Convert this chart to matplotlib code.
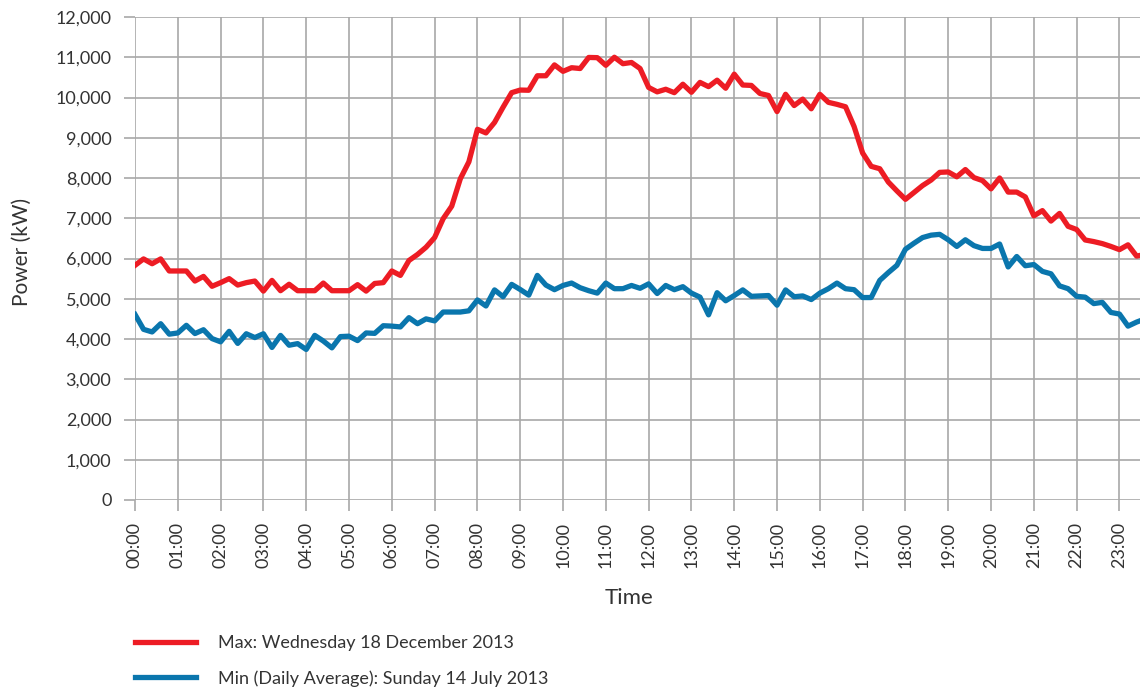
import matplotlib
matplotlib.use("Agg")
import matplotlib.pyplot as plt
import numpy as np

plt.rcParams["font.family"] = ["Lato", "DejaVu Sans"]

# ---- data (12-minute readings, kW) ----
interval_minutes = 12
max_power = [
    5830, 5990, 5870, 5990, 5690, 5690, 5690, 5440, 5555, 5310,
    5400, 5500, 5340, 5400, 5440, 5190, 5456, 5200, 5360, 5200,
    5200, 5200, 5390, 5200, 5200, 5200, 5350, 5190, 5380, 5400,
    5690, 5580, 5950, 6100, 6280, 6520, 6990, 7300, 7980, 8400,
    9210, 9120, 9380, 9760, 10120, 10185, 10180, 10540, 10540, 10810,
    10650, 10740, 10720, 10995, 10990, 10800, 11000, 10840, 10870, 10720,
    10250, 10140, 10205, 10120, 10330, 10130, 10375, 10270, 10430, 10230,
    10580, 10310, 10300, 10100, 10050, 9650, 10080, 9800, 9960, 9720,
    10080, 9880, 9830, 9770, 9280, 8620, 8290, 8230, 7900, 7680,
    7470, 7640, 7812, 7950, 8140, 8150, 8030, 8210, 8010, 7936,
    7730, 8000, 7650, 7650, 7530, 7060, 7190, 6930, 7120, 6800,
    6720, 6460, 6420, 6370, 6300, 6220, 6340, 6060, 6100,
]
min_power = [
    4610, 4240, 4175, 4380, 4120, 4150, 4340, 4135, 4230, 4010,
    3930, 4190, 3890, 4130, 4035, 4130, 3790, 4090, 3845, 3885,
    3740, 4090, 3950, 3780, 4060, 4070, 3960, 4150, 4140, 4330,
    4320, 4300, 4530, 4380, 4500, 4450, 4670, 4670, 4670, 4700,
    4970, 4820, 5220, 5050, 5357, 5230, 5090, 5580, 5340, 5225,
    5330, 5390, 5274, 5200, 5140, 5390, 5250, 5250, 5330, 5260,
    5370, 5130, 5330, 5225, 5300, 5140, 5040, 4600, 5150, 4950,
    5080, 5220, 5060, 5070, 5080, 4840, 5220, 5050, 5070, 4980,
    5140, 5250, 5390, 5250, 5225, 5030, 5030, 5456, 5650, 5830,
    6230, 6380, 6520, 6580, 6600, 6465, 6300, 6465, 6320, 6250,
    6250, 6360, 5790, 6050, 5820, 5850, 5680, 5620, 5320, 5250,
    5060, 5040, 4880, 4910, 4660, 4620, 4320, 4420, 4500,
]
hour_labels = [f"{h:02d}:00" for h in range(24)]
y_ticks = list(range(0, 12001, 1000))
series_labels = ["Max: Wednesday 18 December 2013",
                 "Min (Daily Average): Sunday 14 July 2013"]

t_max = np.arange(len(max_power)) * interval_minutes / 60.0
t_min = np.arange(len(min_power)) * interval_minutes / 60.0

RED = "#ED1C24"
BLUE = "#0A76AD"
GRID = "#a8a8a8"
TXT = "#333333"

W, H = 1140, 688
fig = plt.figure(figsize=(W / 100, H / 100), dpi=100)
ax = fig.add_axes([135 / W, 1 - 500 / H, (W - 135) / W, (500 - 17) / H])

ax.plot(t_max, max_power, color=RED, lw=3.8, label=series_labels[0], zorder=3)
ax.plot(t_min, min_power, color=BLUE, lw=3.8, label=series_labels[1], zorder=3)

ax.set_xlim(0, 23.48)
ax.set_ylim(0, 12000)
ax.set_xticks(range(24))
ax.set_xticklabels(hour_labels, rotation=90)
ax.set_yticks(y_ticks)
ax.set_yticklabels([f"{v:,}" for v in y_ticks])

ax.grid(True, color=GRID, lw=1.2)
ax.set_axisbelow(True)
for s in ax.spines.values():
    s.set_visible(False)
ax.tick_params(axis="both", length=8, width=1.2, color=GRID,
               labelsize=13, labelcolor=TXT)
ax.tick_params(axis="y", pad=9)
ax.tick_params(axis="x", pad=8)

fig.text(22 / W, 1 - 252 / H, "Power (kW)", rotation=90, ha="center",
         va="center", fontsize=15, color=TXT)
fig.text(629 / W, 1 - 598 / H, "Time", ha="center", va="center",
         fontsize=16, color=TXT)

fig.legend(loc="upper left", bbox_to_anchor=(135 / W, 1 - 635 / H),
           frameon=False, fontsize=13, handlelength=3.4, handletextpad=1.2,
           borderpad=0, borderaxespad=0, labelspacing=1.05,
           labelcolor=TXT)

fig.savefig("out.png", dpi=100)
